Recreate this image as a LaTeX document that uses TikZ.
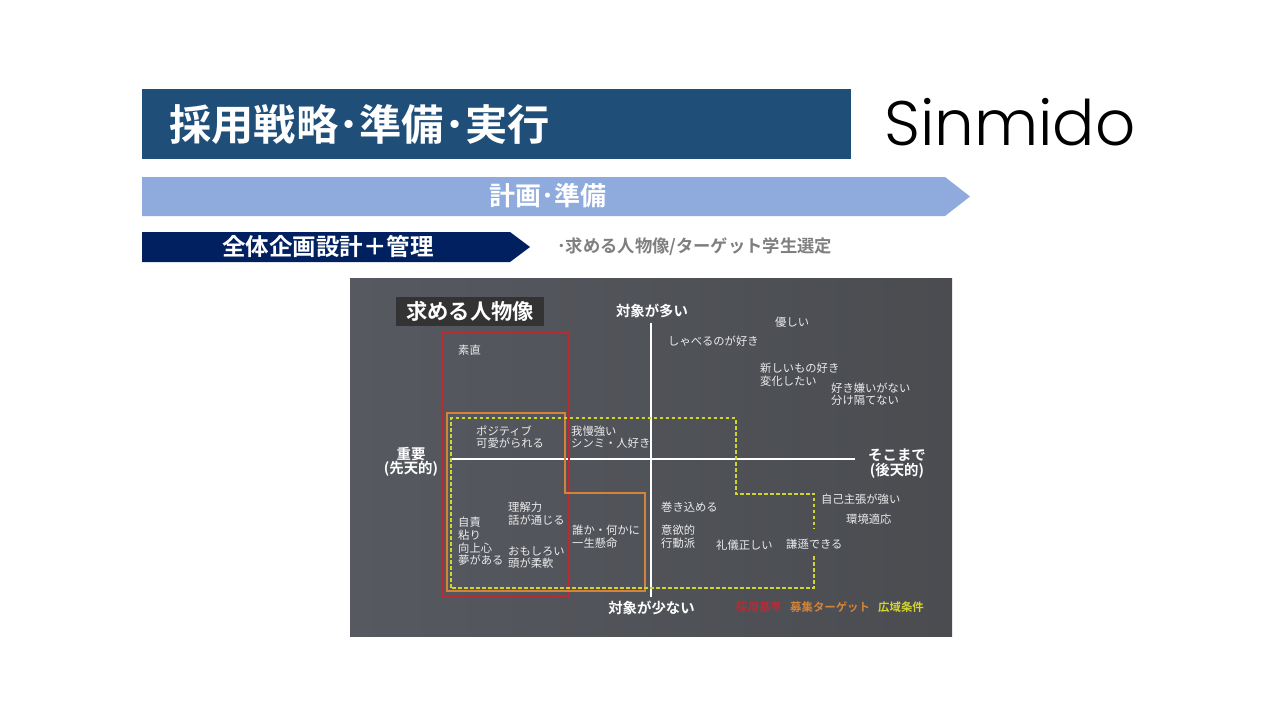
\documentclass[tikz,border=0pt]{standalone}
\usepackage{fontspec}
\setmainfont{Noto Sans CJK JP}[BoldFont={* Bold}]
\newfontfamily\logofont{Poppins Light}
\definecolor{headblue}{HTML}{1F4E79}
\definecolor{bandblue}{HTML}{8FAADC}
\definecolor{navy}{HTML}{002060}
\definecolor{subgrey}{HTML}{7F7F7F}
\definecolor{chartl}{HTML}{565960}
\definecolor{chartr}{HTML}{4A4C50}
\definecolor{redline}{HTML}{B92B33}
\definecolor{orangeline}{HTML}{D4833A}
\definecolor{yellowline}{HTML}{D2D52E}
\definecolor{labelwhite}{HTML}{ECECEC}
\tikzset{
  x=1pt,y=-1pt,
  lbl/.style={anchor=west,inner sep=0pt,text=labelwhite,align=left,font=\fontsize{11.3}{12.6}\selectfont},
  axislbl/.style={inner sep=0pt,text=white,align=center,font=\bfseries\fontsize{14.4}{14.5}\selectfont},
  legend/.style={anchor=west,inner sep=0pt,font=\bfseries\fontsize{11.4}{12}\selectfont},
  axisline/.style={draw=white,line width=2.4pt},
  yellowdash/.style={draw=yellowline,line width=2pt,dash pattern=on 3.5pt off 2.5pt}
}
\begin{document}
\begin{tikzpicture}
\useasboundingbox (0,0) rectangle (1280,720);
\fill[white] (0,0) rectangle (1280,720);
% header
\fill[headblue] (142,89) rectangle (851,159);
\node[anchor=west,inner sep=0pt,text=white,font=\bfseries\fontsize{42.3}{44}\selectfont] (title) at (169,124) {採用戦略･準備･実行};
\node[anchor=west,inner sep=0pt,text=black,font=\logofont\fontsize{62.8}{64}\selectfont] (logo) at (884,122) {Sinmido};
% bands
\fill[bandblue] (142,177) -- (945,177) -- (970,196.5) -- (945,216) -- (142,216) -- cycle;
\node[inner sep=0pt,text=white,font=\bfseries\fontsize{26}{28}\selectfont] (plan) at (547.5,196) {計画･準備};
\fill[navy] (142,232) -- (510,232) -- (530,247) -- (510,262) -- (142,262) -- cycle;
\node[inner sep=0pt,text=white,font=\bfseries\fontsize{23.5}{25}\selectfont] (mgmt) at (328,246.5) {全体企画設計＋管理};
\node[anchor=west,inner sep=0pt,text=subgrey,font=\bfseries\fontsize{17.3}{19}\selectfont] (sub) at (557,247) {･求める人物像/ターゲット学生選定};
% chart
\shade[left color=chartl,right color=chartr] (350,278) rectangle (952,636);
\node[fill=black!80,minimum width=148pt,minimum height=29pt,inner sep=0pt,text=white,font=\bfseries\fontsize{21.3}{23}\selectfont] (chartttl) at (470,311.5) {求める人物像};
% axes
\coordinate (vtop) at (651,323);
\coordinate (vbot) at (651,597);
\coordinate (hl) at (451,459);
\coordinate (hr) at (855,459);
\draw[axisline] (vtop) -- (vbot);
\draw[axisline] (hl) -- (hr);
% regions
\draw[redline,line width=2pt] (443,333) rectangle (569,596);
\draw[orangeline,line width=2pt] (447,412.5) -- (565,412.5) -- (565,492.5) -- (645,492.5) -- (645,591) -- (447,591) -- cycle;
\draw[yellowdash] (451,587.5) -- (451,418) -- (735.5,418) -- (735.5,493.5) -- (814,493.5) -- (814,529);
\draw[yellowdash] (814,556) -- (814,587.5) -- (451,587.5);
% axis labels
\node[axislbl] (top) at (652,311) {対象が多い};
\node[axislbl] (bottom) at (651.5,608) {対象が少ない};
\node[axislbl] (left) at (411,462) {重要\\(先天的)};
\node[axislbl] (right) at (897,463.5) {そこまで\\(後天的)};
% labels
\node[lbl] (a1) at (458,350) {素直};
\node[lbl] (a2) at (476,437) {ポジティブ\\可愛がられる};
\node[lbl] (a3) at (571,437) {我慢強い\\シンミ・人好き};
\node[lbl] (a4) at (775,322) {優しい};
\node[lbl] (a5) at (668,341) {しゃべるのが好き};
\node[lbl] (a6) at (760,375) {新しいもの好き\\変化したい};
\node[lbl] (a7) at (831,394) {好き嫌いがない\\分け隔てない};
\node[lbl] (a8) at (821,499) {自己主張が強い};
\node[lbl] (a9) at (846,519) {環境適応};
\node[lbl] (a10) at (661,507) {巻き込める};
\node[lbl] (a11) at (661,537) {意欲的\\行動派};
\node[lbl] (a12) at (716,545) {礼儀正しい};
\node[lbl] (a13) at (786,544.5) {謙遜できる};
\node[lbl] (a14) at (508,513.5) {理解力\\話が通じる};
\node[lbl] (a15) at (508,557.5) {おもしろい\\頭が柔軟};
\node[lbl] (a16) at (458,541.5) {自責\\粘り\\向上心\\夢がある};
\node[lbl] (a17) at (572,536.5) {誰か・何かに\\一生懸命};
% legend
\node[legend,text=redline] (l1) at (736,607) {採用基準};
\node[legend,text=orangeline] (l2) at (790,607) {募集ターゲット};
\node[legend,text=yellowline] (l3) at (878,607) {広域条件};
\end{tikzpicture}
\end{document}
